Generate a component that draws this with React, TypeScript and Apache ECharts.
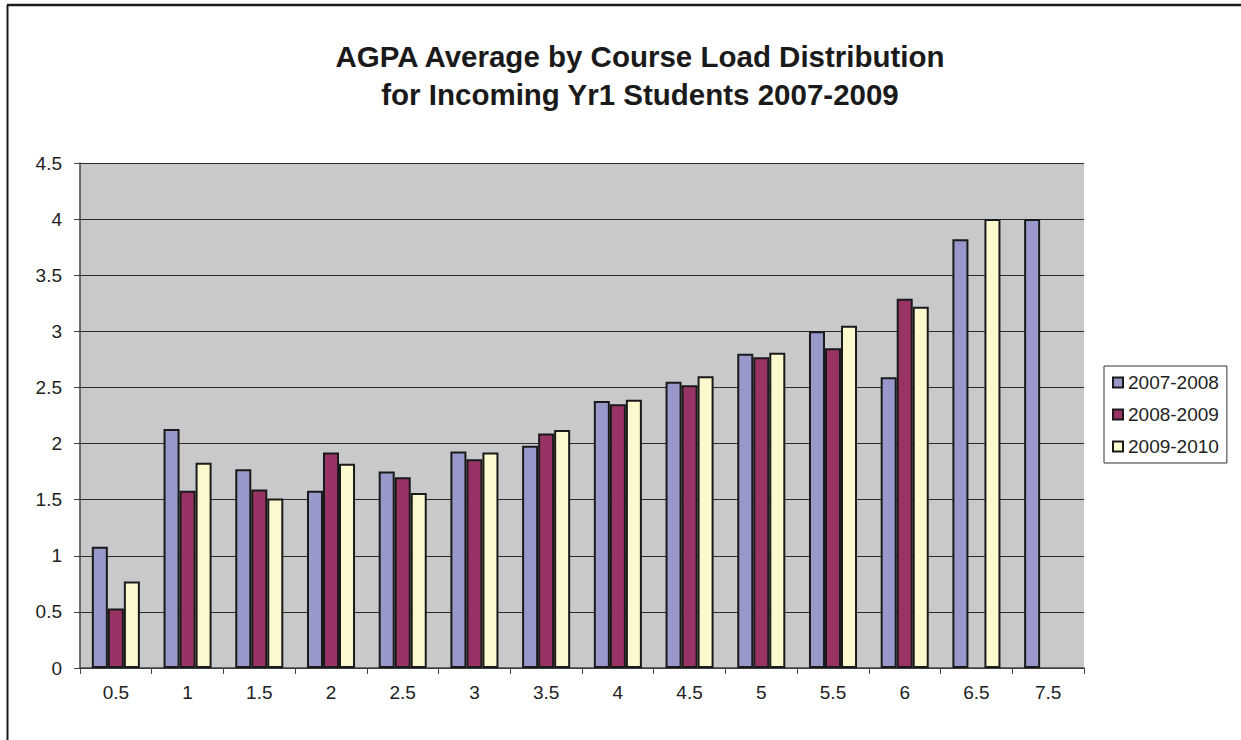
import React, { useEffect, useRef } from "react";
import * as echarts from "echarts";

const categories = ["0.5", "1", "1.5", "2", "2.5", "3", "3.5", "4", "4.5", "5", "5.5", "6", "6.5", "7.5"];
const s2007 = [1.08, 2.13, 1.77, 1.58, 1.75, 1.93, 1.98, 2.38, 2.55, 2.80, 3.00, 2.59, 3.82, 4.00];
const s2008 = [0.53, 1.58, 1.59, 1.92, 1.70, 1.86, 2.09, 2.35, 2.52, 2.77, 2.85, 3.29, null, null];
const s2009 = [0.77, 1.83, 1.51, 1.82, 1.56, 1.92, 2.12, 2.39, 2.60, 2.81, 3.05, 3.22, 4.00, null];
const seriesNames = ["2007-2008", "2008-2009", "2009-2010"];
const colors = ["#9898CB", "#993366", "#FCF9CE"];
const titleText = "AGPA Average by Course Load Distribution\nfor Incoming Yr1 Students 2007-2009";

export default function App() {
  const ref = useRef<HTMLDivElement>(null);
  useEffect(() => {
    if (!ref.current) return;
    const chart = echarts.init(ref.current, undefined, { renderer: "svg" });
    const font = "'Liberation Sans', Arial, sans-serif";
    const data = [s2007, s2008, s2009];
    chart.setOption({
      animation: false,
      backgroundColor: "#ffffff",
      textStyle: { fontFamily: font },
      title: {
        text: titleText,
        left: 635,
        top: 32,
        textAlign: "center",
        textStyle: { fontFamily: font, fontSize: 29.5, fontWeight: "bold", color: "#1a1a1a", lineHeight: 38 },
      },
      graphic: [
        { type: "line", shape: { x1: 7, y1: 5, x2: 1241, y2: 5 }, style: { stroke: "#1a1a1a", lineWidth: 2.5 } },
        { type: "line", shape: { x1: 7.5, y1: 5, x2: 7.5, y2: 740 }, style: { stroke: "#1a1a1a", lineWidth: 2 } },
      ],
      legend: {
        orient: "vertical",
        left: 1104,
        top: 366,
        data: seriesNames,
        borderColor: "#333",
        borderWidth: 1,
        padding: [7, 8, 7, 8],
        itemGap: 13,
        itemWidth: 10,
        itemHeight: 10,
        icon: "rect",
        textStyle: { fontFamily: font, fontSize: 19, color: "#222" },
      },
      grid: {
        left: 80,
        top: 163,
        right: 157,
        bottom: 72,
        show: true,
        backgroundColor: "#C8C9CB",
        borderColor: "#BDBDBD",
        borderWidth: 0,
      },
      xAxis: {
        type: "category",
        data: categories,
        axisLine: { lineStyle: { color: "#444", width: 1.5 } },
        axisTick: { show: true, length: 6, lineStyle: { color: "#444" } },
        axisLabel: { fontFamily: font, fontSize: 19, color: "#222", margin: 15 },
      },
      yAxis: {
        type: "value",
        min: 0,
        max: 4.5,
        interval: 0.5,
        axisLine: { show: true, lineStyle: { color: "#444", width: 1.5 } },
        axisTick: { show: true, length: 6, lineStyle: { color: "#444" } },
        axisLabel: { fontFamily: font, fontSize: 19, color: "#222", margin: 18 },
        splitLine: { show: true, lineStyle: { color: "#2a2a2a", width: 1 } },
      },
      series: seriesNames.map((name, i) => ({
        name,
        type: "bar",
        data: data[i],
        barGap: "0%",
        barCategoryGap: "33%",
        itemStyle: { color: colors[i], borderColor: "#1a1a1a", borderWidth: 2 },
      })),
    });
    return () => chart.dispose();
  }, []);
  return <div ref={ref} style={{ position: "absolute", left: 0, top: 0, width: 1241, height: 740 }} />;
}
